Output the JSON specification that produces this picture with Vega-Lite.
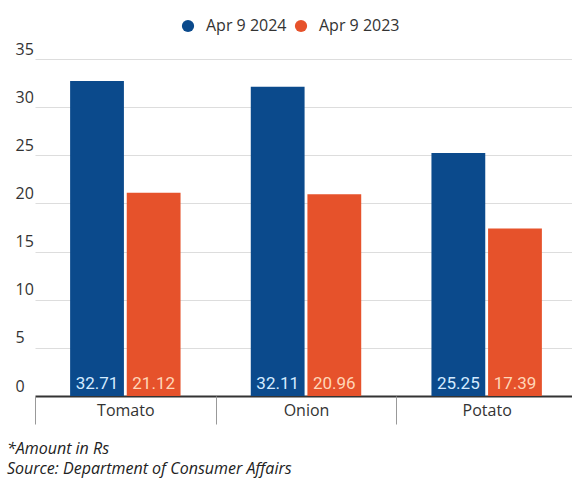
{
  "$schema": "https://vega.github.io/schema/vega-lite/v6.json",
  "width": 558,
  "height": 337,
  "autosize": "none",
  "padding": {"left": 14, "top": 59, "right": 0, "bottom": 82},
  "background": "#ffffff",
  "config": {
    "view": {"stroke": null},
    "font": "Open Sans"
  },
  "title": {
    "text": ["*Amount in Rs", "Source: Department of Consumer Affairs"],
    "orient": "bottom",
    "anchor": "start",
    "frame": "bounds",
    "fontSize": 16,
    "fontStyle": "italic",
    "fontWeight": "normal",
    "color": "#222222",
    "lineHeight": 20,
    "offset": 16,
    "dx": -7,
    "font": "Open Sans"
  },
  "data": {
    "values": [
      {"item": "Tomato", "date": "Apr 9 2024", "price": 32.71},
      {"item": "Tomato", "date": "Apr 9 2023", "price": 21.12},
      {"item": "Onion", "date": "Apr 9 2024", "price": 32.11},
      {"item": "Onion", "date": "Apr 9 2023", "price": 20.96},
      {"item": "Potato", "date": "Apr 9 2024", "price": 25.25},
      {"item": "Potato", "date": "Apr 9 2023", "price": 17.39}
    ]
  },
  "encoding": {
    "x": {
      "field": "item",
      "type": "nominal",
      "sort": ["Tomato", "Onion", "Potato"],
      "scale": {"range": [21, 563], "paddingInner": 0, "paddingOuter": 0},
      "axis": {
        "title": null,
        "domain": false,
        "tickBand": "extent",
        "tickSize": 28,
        "tickColor": "#999999",
        "tickWidth": 1,
        "labelAngle": 0,
        "labelFontSize": 16,
        "labelColor": "#333333",
        "labelBaseline": "top",
        "labelPadding": -22,
        "labelFont": "Open Sans"
      }
    },
    "xOffset": {
      "field": "date",
      "type": "nominal",
      "sort": ["Apr 9 2024", "Apr 9 2023"],
      "scale": {"paddingInner": 0.05, "paddingOuter": 0.62}
    }
  },
  "layer": [
    {
      "mark": {"type": "bar"},
      "encoding": {
        "y": {
          "field": "price",
          "type": "quantitative",
          "scale": {"domain": [0, 35], "nice": false},
          "axis": {
            "title": null,
            "values": [0, 5, 10, 15, 20, 25, 30, 35],
            "domain": false,
            "ticks": false,
            "tickSize": 0,
            "labelAlign": "left",
            "labelBaseline": "alphabetic",
            "labelPadding": -1,
            "labelOffset": -5,
            "labelFontSize": 16,
            "labelColor": "#333333",
            "labelFont": "Open Sans",
            "grid": true,
            "gridColor": {"condition": {"test": "datum.value === 0", "value": "#333333"}, "value": "#dddddd"},
            "gridWidth": {"condition": {"test": "datum.value === 0", "value": 2}, "value": 1}
          }
        },
        "color": {
          "field": "date",
          "type": "nominal",
          "sort": ["Apr 9 2024", "Apr 9 2023"],
          "scale": {"domain": ["Apr 9 2024", "Apr 9 2023"], "range": ["#0b4a8c", "#e6522b"]},
          "legend": {
            "title": null,
            "orient": "none",
            "direction": "horizontal",
            "legendX": 166,
            "legendY": -41,
            "symbolType": "circle",
            "symbolSize": 150,
            "symbolStrokeWidth": 0,
            "labelFontSize": 16,
            "labelColor": "#333333",
            "labelFont": "Open Sans",
            "labelOffset": 10,
            "columnPadding": 6,
            "padding": 0
          }
        }
      }
    },
    {
      "mark": {"type": "text", "baseline": "alphabetic", "dy": -7, "fontSize": 17, "font": "Roboto"},
      "encoding": {
        "y": {"datum": 0},
        "text": {"field": "price", "type": "quantitative", "format": ".2f"},
        "color": {
          "condition": {"test": "datum.date === 'Apr 9 2024'", "value": "#d4eaff"},
          "value": "#ffd6b8"
        }
      }
    }
  ]
}
